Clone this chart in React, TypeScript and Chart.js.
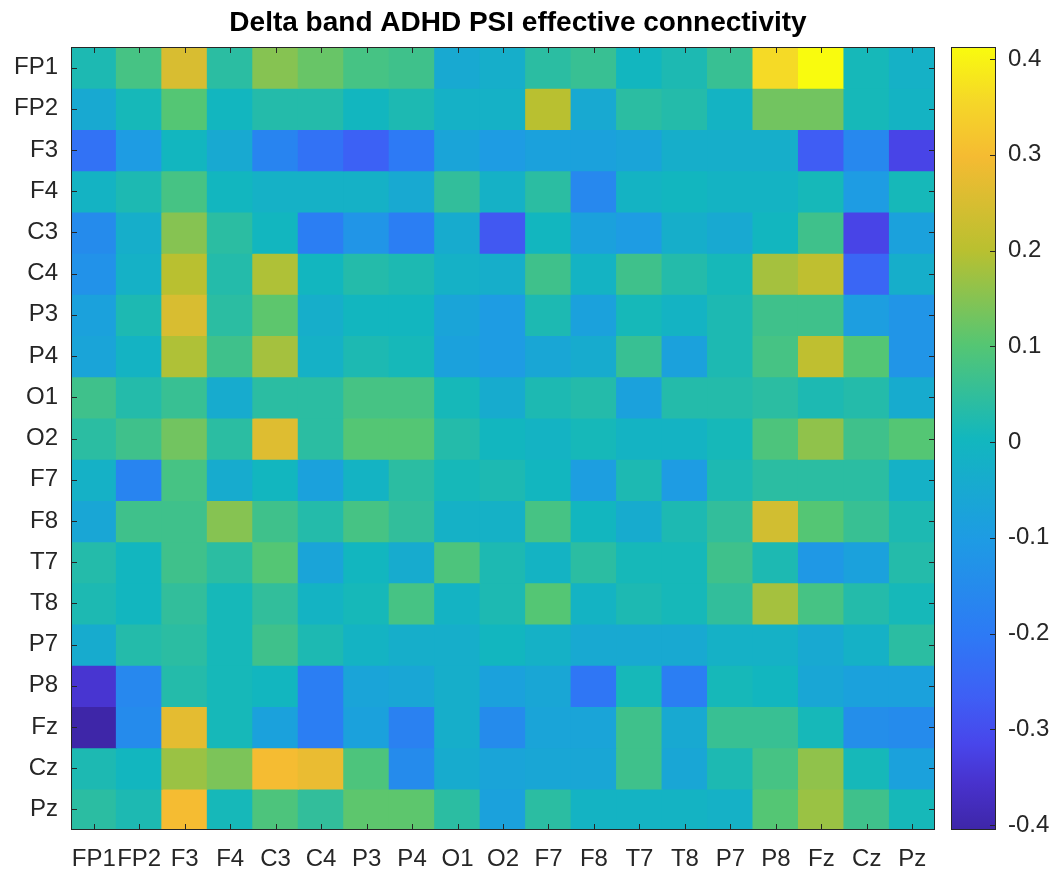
import React, { useEffect, useRef } from "react";
import { Chart, registerables } from "chart.js";

Chart.register(...registerables);

// ---------- data ----------
const channels = ["FP1", "FP2", "F3", "F4", "C3", "C4", "P3", "P4", "O1", "O2", "F7", "F8", "T7", "T8", "P7", "P8", "Fz", "Cz", "Pz"];
const rowLabels = channels;
const colLabels = channels;

const rowFP1 = [0.02, 0.08, 0.25, 0.04, 0.15, 0.12, 0.08, 0.07, -0.05, -0.03, 0.04, 0.06, 0.0, 0.02, 0.06, 0.36, 0.4125, 0.01, -0.02];
const rowFP2 = [-0.05, 0.01, 0.1, 0.0, 0.03, 0.03, 0.0, 0.02, -0.02, -0.02, 0.2, -0.05, 0.04, 0.03, -0.01, 0.13, 0.13, 0.01, -0.01];
const rowF3 = [-0.22, -0.1, 0.0, -0.05, -0.17, -0.22, -0.26, -0.2, -0.07, -0.1, -0.08, -0.08, -0.07, -0.03, -0.03, -0.03, -0.27, -0.16, -0.32];
const rowF4 = [-0.01, 0.02, 0.08, 0.0, -0.02, -0.02, -0.02, -0.05, 0.05, -0.02, 0.04, -0.16, -0.01, 0.0, -0.01, -0.01, 0.01, -0.1, 0.01];
const rowC3 = [-0.15, -0.03, 0.15, 0.04, 0.0, -0.19, -0.12, -0.19, -0.04, -0.28, 0.0, -0.08, -0.1, -0.03, -0.05, 0.0, 0.07, -0.32, -0.08];
const rowC4 = [-0.13, -0.02, 0.2, 0.03, 0.19, 0.0, 0.03, 0.02, -0.02, -0.03, 0.07, -0.01, 0.07, 0.03, 0.01, 0.18, 0.21, -0.25, -0.03];
const rowP3 = [-0.08, 0.02, 0.25, 0.04, 0.11, -0.03, 0.0, 0.0, -0.07, -0.1, 0.02, -0.08, 0.01, -0.01, 0.02, 0.07, 0.07, -0.09, -0.12];
const rowP4 = [-0.07, -0.01, 0.19, 0.07, 0.18, -0.02, 0.02, 0.01, -0.08, -0.1, -0.06, -0.04, 0.06, -0.08, 0.02, 0.08, 0.21, 0.1, -0.12];
const rowO1 = [0.07, 0.03, 0.06, -0.04, 0.04, 0.04, 0.08, 0.08, 0.01, -0.04, 0.02, 0.03, -0.08, 0.03, 0.03, 0.04, 0.02, 0.03, -0.04];
const rowO2 = [0.04, 0.07, 0.13, 0.04, 0.26, 0.04, 0.1, 0.1, 0.03, 0.0, -0.01, 0.01, -0.01, -0.01, 0.01, 0.09, 0.16, 0.07, 0.1];
const rowF7 = [-0.02, -0.17, 0.08, -0.04, 0.0, -0.08, -0.01, 0.04, 0.01, 0.02, 0.0, -0.09, 0.02, -0.1, 0.02, 0.04, 0.04, 0.04, -0.02];
const rowF8 = [-0.06, 0.07, 0.07, 0.15, 0.07, 0.03, 0.08, 0.05, -0.02, -0.02, 0.08, 0.0, -0.04, 0.02, 0.05, 0.24, 0.1, 0.06, 0.02];
const rowT7 = [0.03, 0.0, 0.07, 0.04, 0.1, -0.07, 0.0, -0.04, 0.09, 0.02, -0.01, 0.04, 0.01, 0.01, 0.07, 0.02, -0.11, -0.08, 0.03];
const rowT8 = [0.02, 0.0, 0.05, 0.01, 0.05, -0.01, 0.01, 0.08, -0.01, 0.02, 0.1, -0.01, 0.02, 0.01, 0.05, 0.18, 0.08, 0.03, 0.01];
const rowP7 = [-0.04, 0.03, 0.04, 0.01, 0.07, 0.02, -0.01, -0.03, -0.03, 0.0, -0.02, -0.05, -0.05, -0.05, -0.02, -0.02, -0.05, -0.02, 0.04];
const rowP8 = [-0.35, -0.16, 0.03, 0.01, 0.0, -0.19, -0.07, -0.06, -0.03, -0.08, -0.06, -0.21, 0.01, -0.19, 0.01, 0.0, -0.06, -0.08, -0.08];
const rowFz = [-0.405, -0.15, 0.27, 0.01, -0.08, -0.19, -0.08, -0.18, -0.03, -0.15, -0.07, -0.07, 0.07, -0.05, 0.06, 0.06, 0.01, -0.14, -0.15];
const rowCz = [0.02, 0.0, 0.17, 0.14, 0.3, 0.28, 0.09, -0.15, -0.04, -0.07, -0.06, -0.06, 0.07, -0.06, 0.02, 0.08, 0.16, 0.01, -0.08];
const rowPz = [0.04, 0.02, 0.3, 0.01, 0.09, 0.05, 0.11, 0.11, 0.04, -0.08, 0.04, -0.01, -0.01, -0.01, -0.02, 0.1, 0.17, 0.07, 0.01];

const psiValues = [rowFP1, rowFP2, rowF3, rowF4, rowC3, rowC4, rowP3, rowP4, rowO1, rowO2, rowF7, rowF8, rowT7, rowT8, rowP7, rowP8, rowFz, rowCz, rowPz];

const colorbarTicks = [-0.4, -0.3, -0.2, -0.1, 0, 0.1, 0.2, 0.3, 0.4];
const colorbarTickLabels = ["-0.4", "-0.3", "-0.2", "-0.1", "0", "0.1", "0.2", "0.3", "0.4"];
const titleText = "Delta band ADHD PSI effective connectivity";

// ---------- colour map (parula-like) ----------
const parulaStops: [number, number[]][] = [
  [0.0, [62, 38, 168]],
  [0.06, [72, 50, 205]],
  [0.11, [72, 70, 235]],
  [0.17, [62, 95, 245]],
  [0.25, [45, 122, 245]],
  [0.37, [30, 155, 228]],
  [0.5, [18, 183, 190]],
  [0.62, [85, 198, 115]],
  [0.74, [185, 192, 48]],
  [0.86, [245, 187, 50]],
  [0.93, [245, 215, 40]],
  [1.0, [249, 251, 14]],
];

const allVals = psiValues.flat();
const cMin = Math.min(...allVals);
const cMax = Math.max(...allVals);

function parula(t: number): string {
  const tt = Math.max(0, Math.min(1, t));
  for (let i = 0; i < parulaStops.length - 1; i++) {
    const [t0, c0] = parulaStops[i];
    const [t1, c1] = parulaStops[i + 1];
    if (tt >= t0 && tt <= t1) {
      const f = (tt - t0) / (t1 - t0);
      const c = c0.map((v, k) => Math.round(v + (c1[k] - v) * f));
      return `rgb(${c[0]},${c[1]},${c[2]})`;
    }
  }
  const l = parulaStops[parulaStops.length - 1][1];
  return `rgb(${l[0]},${l[1]},${l[2]})`;
}
const colorFor = (v: number) => parula((v - cMin) / (cMax - cMin));

const FONT = "'Liberation Sans', Arial, Helvetica, sans-serif";
const TEXT = "#262626";
const W = 1053;
const H = 878;

// ---------- plugins ----------
const frameTicksPlugin = {
  id: "frameTicks",
  afterDatasetsDraw(chart: any) {
    const { ctx, chartArea: a, scales } = chart;
    const L = 6;
    ctx.save();
    ctx.strokeStyle = TEXT;
    ctx.lineWidth = 1;
    ctx.beginPath();
    colLabels.forEach((_, i) => {
      const x = Math.round(scales.x.getPixelForValue(i)) + 0.5;
      ctx.moveTo(x, a.bottom);
      ctx.lineTo(x, a.bottom - L);
      ctx.moveTo(x, a.top);
      ctx.lineTo(x, a.top + L);
    });
    rowLabels.forEach((_, i) => {
      const y = Math.round(scales.y.getPixelForValue(i)) + 0.5;
      ctx.moveTo(a.left, y);
      ctx.lineTo(a.left + L, y);
      ctx.moveTo(a.right, y);
      ctx.lineTo(a.right - L, y);
    });
    ctx.stroke();
    ctx.strokeRect(Math.round(a.left) + 0.5, Math.round(a.top) + 0.5, Math.round(a.width) - 1, Math.round(a.height) - 1);
    ctx.restore();
  },
  afterDraw(chart: any) {
    const { ctx } = chart;
    ctx.save();
    ctx.fillStyle = "#000";
    ctx.font = `bold 28px ${FONT}`;
    ctx.textAlign = "center";
    ctx.textBaseline = "alphabetic";
    ctx.fillText(titleText, 518, 31);
    ctx.restore();
  },
};

const colorbarFramePlugin = {
  id: "cbFrame",
  afterDatasetsDraw(chart: any) {
    const { ctx, chartArea: a, scales } = chart;
    const L = 6;
    ctx.save();
    ctx.strokeStyle = TEXT;
    ctx.lineWidth = 1;
    ctx.beginPath();
    colorbarTicks.forEach((v) => {
      const y = Math.round(scales.y.getPixelForValue(v)) + 0.5;
      ctx.moveTo(a.right, y);
      ctx.lineTo(a.right - L, y);
    });
    ctx.stroke();
    ctx.strokeRect(Math.round(a.left) + 0.5, Math.round(a.top) + 0.5, Math.round(a.width) - 1, Math.round(a.height) - 1);
    ctx.restore();
  },
};

export default function App() {
  const mainRef = useRef<HTMLCanvasElement | null>(null);
  const cbRef = useRef<HTMLCanvasElement | null>(null);

  useEffect(() => {
    if (!mainRef.current || !cbRef.current) return;

    const datasets = rowLabels.map((name, r) => ({
      label: name,
      data: psiValues[r].map(() => [r - 0.5, r + 0.5]),
      backgroundColor: psiValues[r].map(colorFor),
      borderWidth: 0,
      barPercentage: 1,
      categoryPercentage: 1,
      grouped: false,
      inflateAmount: 0.6,
    }));

    const main = new Chart(mainRef.current, {
      type: "bar",
      data: { labels: colLabels, datasets: datasets as any },
      options: {
        animation: false,
        responsive: false,
        maintainAspectRatio: false,
        layout: { padding: { top: 47, right: 10, left: 0, bottom: 0 } },
        plugins: { legend: { display: false }, tooltip: { enabled: false }, title: { display: false } },
        scales: {
          x: {
            type: "category",
            offset: true,
            grid: { display: false, drawTicks: false },
            border: { display: false },
            ticks: { autoSkip: false, maxRotation: 0, minRotation: 0, padding: 15, color: TEXT, font: { family: FONT, size: 24 } },
            afterFit: (s: any) => {
              s.height = 48;
            },
          },
          y: {
            type: "linear",
            reverse: true,
            min: -0.5,
            max: 18.5,
            grid: { display: false, drawTicks: false },
            border: { display: false },
            afterBuildTicks: (s: any) => {
              s.ticks = rowLabels.map((_, i) => ({ value: i }));
            },
            ticks: {
              padding: 13,
              color: TEXT,
              font: { family: FONT, size: 24 },
              callback: (v: any) => rowLabels[v as number] ?? "",
            },
            afterFit: (s: any) => {
              s.width = 71;
            },
          },
        },
      } as any,
      plugins: [frameTicksPlugin],
    });

    const cb = new Chart(cbRef.current, {
      type: "bar",
      data: {
        labels: ["cb"],
        datasets: [
          {
            data: [[cMin, cMax]] as any,
            backgroundColor: (c: any) => {
              const chart = c.chart;
              const area = chart.chartArea;
              if (!area) return "rgba(0,0,0,0)";
              const g = chart.ctx.createLinearGradient(0, area.bottom, 0, area.top);
              parulaStops.forEach(([t, rgb]) => g.addColorStop(t, `rgb(${rgb[0]},${rgb[1]},${rgb[2]})`));
              return g;
            },
            borderWidth: 0,
            barPercentage: 1,
            categoryPercentage: 1,
          },
        ],
      },
      options: {
        animation: false,
        responsive: false,
        maintainAspectRatio: false,
        layout: { padding: { top: 47, left: 6, right: 0, bottom: 48 } },
        plugins: { legend: { display: false }, tooltip: { enabled: false } },
        scales: {
          x: { display: false, offset: true },
          y: {
            position: "right",
            min: cMin,
            max: cMax,
            grid: { display: false, drawTicks: false },
            border: { display: false },
            afterBuildTicks: (s: any) => {
              s.ticks = colorbarTicks.map((v) => ({ value: v }));
            },
            ticks: {
              padding: 12,
              color: TEXT,
              font: { family: FONT, size: 24 },
              callback: (_v: any, i: number) => colorbarTickLabels[i],
            },
            afterFit: (s: any) => {
              s.width = 57;
            },
          },
        },
      } as any,
      plugins: [colorbarFramePlugin],
    });

    return () => {
      main.destroy();
      cb.destroy();
    };
  }, []);

  return (
    <div style={{ position: "fixed", left: 0, top: 0, width: W, height: H, background: "#fff", overflow: "hidden" }}>
      <canvas ref={mainRef} width={945} height={H} style={{ position: "absolute", left: 0, top: 0, width: 945, height: H }} />
      <canvas ref={cbRef} width={108} height={H} style={{ position: "absolute", left: 945, top: 0, width: 108, height: H }} />
    </div>
  );
}
